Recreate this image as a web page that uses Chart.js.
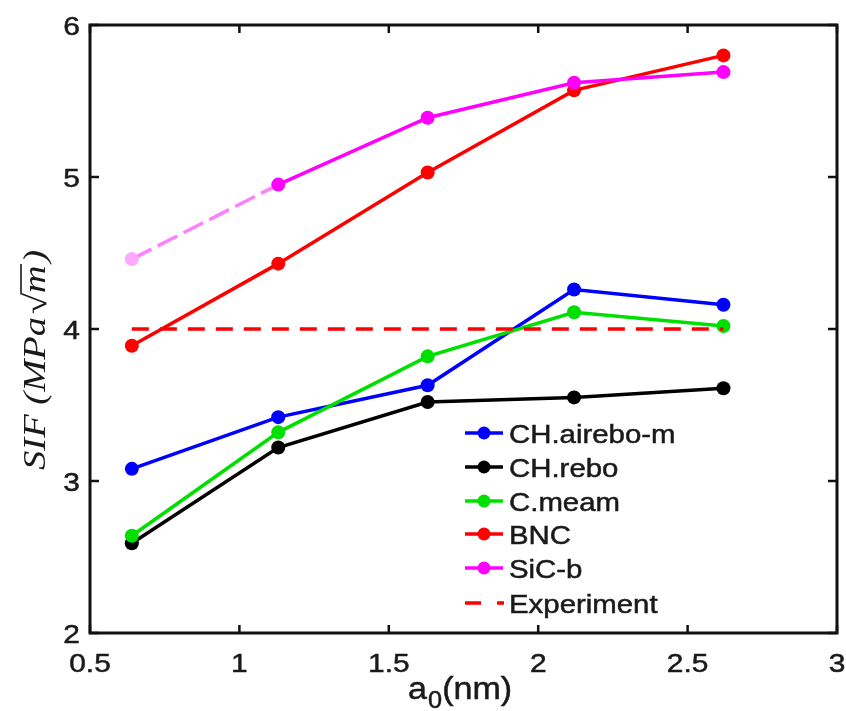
<!DOCTYPE html>
<html>
<head>
<meta charset="utf-8">
<script src="https://cdn.jsdelivr.net/npm/chart.js@4/dist/chart.umd.min.js"></script>
<style>
html,body{margin:0;padding:0;background:#fff;}
canvas{display:block;}
</style>
</head>
<body>
<canvas id="c" width="846" height="711"></canvas>
<script>
// ---- data ----
const xValues = [0.64, 1.13, 1.63, 2.12, 2.62];
const seriesNames = ['CH.airebo-m', 'CH.rebo', 'C.meam', 'BNC', 'SiC-b', 'Experiment'];
const airebo = [3.08, 3.42, 3.63, 4.26, 4.16];
const rebo   = [2.59, 3.22, 3.52, 3.55, 3.61];
const meam   = [2.64, 3.32, 3.82, 4.11, 4.02];
const bnc    = [3.89, 4.43, 5.03, 5.57, 5.80];
const sicb   = [4.46, 4.95, 5.39, 5.62, 5.69];
const experimentX = [0.64, 2.62];
const experimentY = [4, 4];
const xTicks = [0.5, 1, 1.5, 2, 2.5, 3];
const xTickLabels = ['0.5', '1', '1.5', '2', '2.5', '3'];
const yTicks = [2, 3, 4, 5, 6];
const yTickLabels = ['2', '3', '4', '5', '6'];

const pts = (xs, ys) => xs.map((x, i) => ({x: x, y: ys[i]}));

function lineDs(label, ys, color, order) {
  return {
    label: label, data: pts(xValues, ys),
    borderColor: color, backgroundColor: color,
    pointBackgroundColor: color, pointBorderWidth: 0,
    pointRadius: 7, borderWidth: 3.5, order: order, tension: 0
  };
}

const dsSic = lineDs(seriesNames[4], sicb, '#ff00ff', 2);
dsSic.pointBackgroundColor = ['#ffa8ff', '#ff00ff', '#ff00ff', '#ff00ff', '#ff00ff'];
dsSic.segment = {
  borderColor: ctx => ctx.p0DataIndex === 0 ? '#ff80ff' : undefined,
  borderDash: ctx => ctx.p0DataIndex === 0 ? [22, 7] : undefined
};

const datasets = [
  lineDs(seriesNames[0], airebo, '#0000ff', 6),
  lineDs(seriesNames[1], rebo, '#000000', 5),
  lineDs(seriesNames[2], meam, '#00e000', 4),
  lineDs(seriesNames[3], bnc, '#ff0000', 3),
  dsSic,
  {
    label: seriesNames[5], data: pts(experimentX, experimentY),
    borderColor: '#ff0000', backgroundColor: '#ff0000',
    borderWidth: 3.5, borderDash: [17, 11], pointRadius: 0, order: 1
  }
];

const TXT = '#1a1a1a';
function stext(ctx, s, x, y, align, sx) {
  ctx.save();
  ctx.translate(x, y);
  ctx.scale(sx, 1);
  ctx.textAlign = align;
  ctx.fillText(s, 0, 0);
  ctx.strokeStyle = TXT;
  ctx.lineWidth = 0.5;
  ctx.strokeText(s, 0, 0);
  ctx.restore();
}

const decor = {
  id: 'decor',
  beforeDraw(chart) {
    const ctx = chart.ctx;
    ctx.save();
    ctx.fillStyle = '#fff';
    ctx.fillRect(0, 0, chart.width, chart.height);
    ctx.restore();
  },
  afterDraw(chart) {
    const ctx = chart.ctx;
    const a = chart.chartArea;
    const xs = chart.scales.x, ys = chart.scales.y;
    ctx.save();
    // frame
    ctx.strokeStyle = '#111';
    ctx.lineWidth = 3;
    ctx.strokeRect(a.left, a.top, a.right - a.left, a.bottom - a.top);
    // inward ticks
    ctx.lineWidth = 2.5;
    ctx.beginPath();
    xTicks.forEach(v => {
      const px = xs.getPixelForValue(v);
      ctx.moveTo(px, a.bottom); ctx.lineTo(px, a.bottom - 8);
      ctx.moveTo(px, a.top); ctx.lineTo(px, a.top + 8);
    });
    yTicks.forEach(v => {
      const py = ys.getPixelForValue(v);
      ctx.moveTo(a.left, py); ctx.lineTo(a.left + 9, py);
      ctx.moveTo(a.right, py); ctx.lineTo(a.right - 9, py);
    });
    ctx.stroke();

    // tick labels
    ctx.fillStyle = TXT;
    ctx.font = '26px "Liberation Sans", Arial, sans-serif';
    ctx.textBaseline = 'alphabetic';
    xTicks.forEach((v, i) => {
      stext(ctx, xTickLabels[i], xs.getPixelForValue(v), a.bottom + 39, 'center', 1.15);
    });
    yTicks.forEach((v, i) => {
      stext(ctx, yTickLabels[i], a.left - 10, ys.getPixelForValue(v) + 9.5, 'right', 1.15);
    });

    // x title: a0(nm) with subscript
    ctx.font = '31px "Liberation Sans", Arial, sans-serif';
    const sxT = 1.1;
    let x0 = 408, base = 699;
    ctx.save();
    ctx.translate(x0, base); ctx.scale(sxT, 1); ctx.textAlign = 'left';
    ctx.strokeStyle = TXT; ctx.lineWidth = 0.5;
    ctx.fillText('a', 0, 0); ctx.strokeText('a', 0, 0);
    let w = ctx.measureText('a').width;
    ctx.font = '23px "Liberation Sans", Arial, sans-serif';
    ctx.fillText('0', w + 1, 9); ctx.strokeText('0', w + 1, 9);
    w += 1 + ctx.measureText('0').width;
    ctx.font = '31px "Liberation Sans", Arial, sans-serif';
    ctx.fillText('(nm)', w, 0); ctx.strokeText('(nm)', w, 0);
    ctx.restore();

    // y title: SIF (MPa√m)
    ctx.save();
    ctx.translate(45, 360);
    ctx.rotate(-Math.PI / 2);
    ctx.font = 'italic 31px "Liberation Serif", "Times New Roman", serif';
    const parts = ['SIF (MPa', '\u221A', 'm', ')'];
    const widths = parts.map(p => ctx.measureText(p).width);
    const total = widths.reduce((s, v) => s + v, 0) + 4;
    const st = 220 / total;
    ctx.scale(st, 1);
    let cx = -total / 2;
    ctx.textAlign = 'left';
    ctx.fillText(parts[0], cx, 0); cx += widths[0] + 2;
    ctx.font = '31px "Liberation Serif", "Times New Roman", serif';
    const rw = ctx.measureText('\u221A').width;
    ctx.fillText('\u221A', cx, 1);
    const radEnd = cx + rw;
    cx += rw;
    ctx.font = 'italic 31px "Liberation Serif", "Times New Roman", serif';
    ctx.fillText('m', cx, 0);
    const mEnd = cx + widths[2] + 1;
    cx += widths[2] + 2;
    ctx.fillText(')', cx, 0);
    ctx.strokeStyle = TXT; ctx.lineWidth = 1.6;
    ctx.beginPath();
    ctx.moveTo(radEnd - 1, -24); ctx.lineTo(mEnd, -24);
    ctx.stroke();
    ctx.restore();

    // legend
    const rows = [433, 467, 501, 534, 568, 603];
    ctx.font = '26px "Liberation Sans", Arial, sans-serif';
    chart.data.datasets.forEach((ds, i) => {
      const yy = rows[i];
      ctx.strokeStyle = ds.borderColor;
      ctx.lineWidth = 3.5;
      ctx.beginPath();
      if (i === 5) {
        ctx.moveTo(465, yy); ctx.lineTo(481, yy);
        ctx.moveTo(497, yy); ctx.lineTo(504, yy);
      } else {
        ctx.moveTo(465, yy); ctx.lineTo(503, yy);
      }
      ctx.stroke();
      if (i !== 5) {
        ctx.fillStyle = ds.borderColor;
        ctx.beginPath();
        ctx.arc(484, yy, 6.5, 0, Math.PI * 2);
        ctx.fill();
      }
      ctx.fillStyle = TXT;
      stext(ctx, ds.label, 509, yy + 9.5, 'left', 1.13);
    });
    ctx.restore();
  }
};

new Chart(document.getElementById('c'), {
  type: 'line',
  data: { datasets: datasets },
  options: {
    responsive: false,
    animation: false,
    events: [],
    layout: { padding: { left: 90, top: 25, right: 9, bottom: 78 } },
    plugins: { legend: { display: false }, tooltip: { enabled: false } },
    scales: {
      x: { type: 'linear', min: 0.5, max: 3, display: false },
      y: { type: 'linear', min: 2, max: 6, display: false }
    }
  },
  plugins: [decor]
});
</script>
</body>
</html>
